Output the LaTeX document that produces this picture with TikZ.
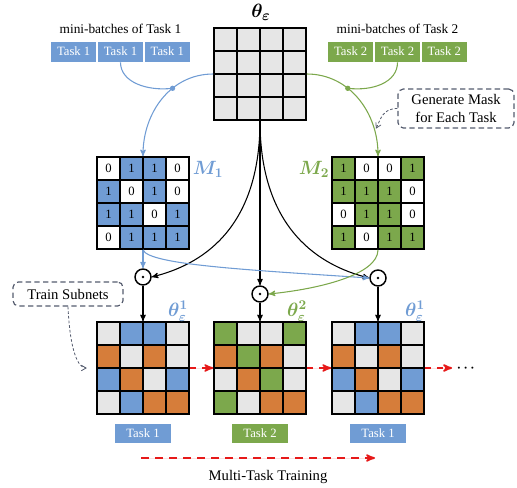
\documentclass[tikz,border=0pt]{standalone}
\usepackage{amsmath}
\usepackage{amssymb}
\usepackage{bm}
\usepackage{fontspec}
\setmainfont{Liberation Serif}
\usepackage{tikz}
\usetikzlibrary{arrows,positioning}

\definecolor{tblue}{RGB}{112,156,212}
\definecolor{tgreen}{RGB}{124,168,76}
\definecolor{torange}{RGB}{214,125,58}
\definecolor{tgray}{RGB}{230,230,230}
\definecolor{tnote}{RGB}{85,92,110}
\definecolor{tred}{RGB}{230,25,25}

\tikzset{
    %Define standard arrow tip
    >=stealth',
    %Define style for grid cells
    cell/.style={
           rectangle,
           draw=black, line width=1.2pt,
           minimum size=17.25pt,
           inner sep=0pt,
           font=\fontsize{9.5}{10}\selectfont},
    gridbox/.style={
           rectangle,
           draw=black, line width=1.2pt,
           minimum size=69pt,
           inner sep=0pt},
    batch/.style={
           rectangle,
           draw=white, line width=0.6pt,
           minimum width=34.5pt,
           minimum height=15.75pt,
           inner sep=0pt,
           text=white,
           font=\fontsize{9.5}{10}\selectfont},
    tasklabel/.style={
           rectangle,
           minimum width=42pt,
           minimum height=14.25pt,
           inner sep=0pt,
           text=white,
           font=\fontsize{9.5}{10}\selectfont},
    note/.style={
           rectangle,
           rounded corners=4pt,
           draw=tnote, line width=0.9pt,
           dash pattern=on 4pt off 2.5pt,
           font=\fontsize{11}{13.5}\selectfont,
           align=center},
    odot/.style={
           circle,
           draw=black, line width=1.1pt,
           minimum size=12pt,
           inner sep=0pt,
           path picture={\fill (path picture bounding box.center) circle (1.1pt);}},
    jdot/.style={
           circle,
           inner sep=0pt,
           minimum size=4pt},
    gridlab/.style={
           inner sep=1pt,
           font=\fontsize{14}{15}\selectfont},
    % Define arrow styles
    pil/.style={->, line width=0.8pt},
    notepil/.style={-angle 60, draw=tnote, line width=0.6pt,
           dash pattern=on 2pt off 1.5pt},
    redpil/.style={->, draw=tred, fill=tred, line width=1.3pt,
           dash pattern=on 5pt off 4pt}
}

% 4x4 grid: name, x, y, list of fill/text
\newcommand{\cellgrid}[4]{%
  \foreach \fc/\tx [count=\i from 0] in {#4} {
    \pgfmathtruncatemacro{\rr}{div(\i,4)}
    \pgfmathtruncatemacro{\cc}{mod(\i,4)}
    \node[cell, fill=\fc] (#1-\rr-\cc) at ({#2+(\cc-1.5)*23},{#3+(\rr-1.5)*23}) {\tx};
  }
  \node[gridbox] (#1) at (#2,#3) {};
}

\begin{document}
\begin{tikzpicture}[x=0.75pt,y=-0.75pt]
\useasboundingbox (0,0) rectangle (517,488);

 %grids
\node[gridlab, font=\fontsize{15}{16}\selectfont] (thlab) at (261,12) {$\bm{\theta_{\varepsilon}}$};
\cellgrid{th}{260}{74}{tgray/{},tgray/{},tgray/{},tgray/{},tgray/{},tgray/{},tgray/{},tgray/{},
  tgray/{},tgray/{},tgray/{},tgray/{},tgray/{},tgray/{},tgray/{},tgray/{}}
\cellgrid{M1}{143}{203}{white/0,tblue/1,tblue/1,white/0, tblue/1,white/0,tblue/1,white/0,
  tblue/1,tblue/1,white/0,tblue/1, white/0,tblue/1,tblue/1,tblue/1}
\cellgrid{M2}{378}{203}{tgreen/1,white/0,white/0,tgreen/1, tgreen/1,tgreen/1,tgreen/1,white/0,
  white/0,tgreen/1,tgreen/1,white/0, tgreen/1,white/0,tgreen/1,tgreen/1}
\cellgrid{B1}{143}{368}{tgray/{},tblue/{},tblue/{},tgray/{}, torange/{},tgray/{},torange/{},tgray/{},
  tblue/{},torange/{},tgray/{},tblue/{}, tgray/{},tblue/{},torange/{},torange/{}}
\cellgrid{B2}{260}{368}{tgreen/{},tgray/{},tgray/{},tgreen/{}, torange/{},tgreen/{},torange/{},tgray/{},
  tgray/{},torange/{},tgreen/{},tgray/{}, tgreen/{},tgray/{},torange/{},torange/{}}
\cellgrid{B3}{378}{368}{tgray/{},tblue/{},tblue/{},tgray/{}, torange/{},tgray/{},torange/{},tgray/{},
  tblue/{},torange/{},tgray/{},tblue/{}, tgray/{},tblue/{},torange/{},torange/{}}

 %labels
\node[gridlab, text=tblue] (m1lab) at (208,169) {$\bm{M_1}$};
\node[gridlab, text=tgreen] (m2lab) at (314,169) {$\bm{M_2}$};
\node[gridlab, text=tblue] (b1lab) at (178,311) {$\bm{\theta_{\varepsilon}^{1}}$};
\node[gridlab, text=tgreen] (b2lab) at (297,311) {$\bm{\theta_{\varepsilon}^{2}}$};
\node[gridlab, text=tblue] (b3lab) at (415,311) {$\bm{\theta_{\varepsilon}^{1}}$};

 %mini-batches
\node[batch, fill=tblue] (t1-2) at (120.5,51.5) {Task 1};
\node[batch, fill=tblue, left=0pt of t1-2] (t1-1) {Task 1};
\node[batch, fill=tblue, right=0pt of t1-2] (t1-3) {Task 1};
\node[font=\fontsize{10}{12}\selectfont] (mb1) at (120.5,29) {mini-batches of Task 1};
\node[batch, fill=tgreen] (t2-2) at (397.5,51.5) {Task 2};
\node[batch, fill=tgreen, left=0pt of t2-2] (t2-1) {Task 2};
\node[batch, fill=tgreen, right=0pt of t2-2] (t2-3) {Task 2};
\node[font=\fontsize{10}{12}\selectfont] (mb2) at (397.5,29) {mini-batches of Task 2};

 %masks
\draw[pil, tblue] (th.west) .. controls +(-43,0) and +(0,-43) .. (M1.north) coordinate[pos=0.37] (j1);
\draw[tblue, line width=0.8pt] (t1-2.south) .. controls +(0,20) and +(-25,3) .. (j1);
\node[jdot, fill=tblue] (j1dot) at (j1) {};
\draw[pil, tgreen] (th.east) .. controls +(43,0) and +(0,-43) .. (M2.north)
    coordinate[pos=0.37] (j2) coordinate[pos=0.8] (garr);
\draw[tgreen, line width=0.8pt] (t2-2.south) .. controls +(0,20) and +(25,3) .. (j2);
\node[jdot, fill=tgreen] (j2dot) at (j2) {};

\node[note, minimum width=87pt, minimum height=29.25pt] (gen) at (456,108.5) {Generate Mask\\for Each Task};
\draw[notepil, shorten >=2pt] (gen.west) .. controls +(-15,0) and +(6,-12) .. (garr);

 %products
\node[odot] (o1) at (143,277) {};
\node[odot] (o2) at (260,294) {};
\node[odot] (o3) at (378,278) {};

\draw[pil] (th.south) .. controls +(0,110) and +(48,-12) .. (o1.east);
\draw[pil] (th.south) -- (o2.north);
\draw[pil] (th.south) .. controls +(0,110) and +(-48,-12) .. (o3.west);
\draw[pil, tblue] (M1.south) -- (o1.north);
\draw[pil, tblue] (M1.south) .. controls +(5,15) and +(-120,-8) .. (o3.west);
\draw[pil, tgreen] (M2.south) .. controls +(0,25) and +(50,-5) .. (o2.east);

\draw[pil] (o1.south) -- (B1.north);
\draw[pil] (o2.south) -- (B2.north);
\draw[pil] (o3.south) -- (B3.north);

\node[note, minimum width=82.5pt, minimum height=18pt] (ts) at (68,294) {Train Subnets};
\draw[notepil, shorten >=7pt] (ts.south) .. controls +(2,45) and +(-18,0) .. (B1.west);

 %training order
\node (dots) at (467,368) {$\bm{\cdots}$};
\draw[redpil] (B1.east) -- (B2.west);
\draw[redpil] (B2.east) -- (B3.west);
\draw[redpil] (B3.east) -- (dots.west);

\node[tasklabel, fill=tblue] (tl1) at (143,433.5) {Task 1};
\node[tasklabel, fill=tgreen] (tl2) at (260,433.5) {Task 2};
\node[tasklabel, fill=tblue] (tl3) at (378,433.5) {Task 1};

\coordinate (mt-a) at (141,458);
\coordinate (mt-b) at (375,458);
\draw[redpil, dash pattern=on 6pt off 4.5pt] (mt-a) -- (mt-b);
\node[font=\fontsize{11}{12}\selectfont] (mtt) at (268,477) {Multi-Task Training};

\end{tikzpicture}
\end{document}
